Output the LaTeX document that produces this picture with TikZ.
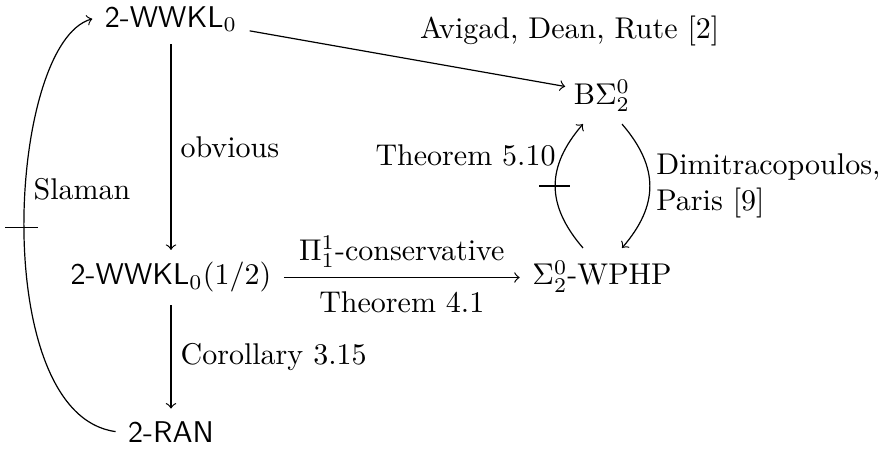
\documentclass[tikz,border=0pt]{standalone}
\usetikzlibrary{calc}
\begin{document}
\begin{tikzpicture}[x=0.3333pt,y=-0.3333pt,
  obj/.style={inner sep=4pt, anchor=base},
  lbl/.style={inner sep=3pt},
  arr/.style={->, line width=0.4pt},
  bar/.style={line width=0.4pt}]
\useasboundingbox (0,0) rectangle (890,453);
% objects
\node[obj] (A) at (171,27) {\textsf{2-WWKL}$_0$};
\node[obj] (B) at (602,104) {$\mathrm{B}\Sigma^0_2$};
\node[obj] (C) at (171,285) {\textsf{2-WWKL}$_0(1/2)$};
\node[obj] (D) at (602,285) {$\Sigma^0_2$-WPHP};
\node[obj] (E) at (171,442) {\textsf{2-RAN}};
% straight arrows
\draw[arr] (A.south) -- node[lbl, right] {obvious} (A.south |- C.north);
\draw[arr] (E.north |- C.south) -- node[lbl, right] {Corollary 3.15} (E.north);
\draw[arr] (C.east) -- node[lbl, above] {$\Pi^1_1$-conservative}
                       node[lbl, below, inner sep=4.5pt] {Theorem 4.1} (C.east -| D.west);
\draw[arr] ([shift={(0,12)}]A.east) -- node[lbl, above right, inner sep=4pt] {Avigad, Dean, Rute [2]}
           ([shift={(4,-9)}]B.west);
% curved arrows between B and D
\draw[arr] ([shift={(-19,0)}]D.north) .. controls +(-37,-43) and +(-37,43) ..
   coordinate[pos=0.5] (m1) node[lbl, pos=0.75, left, inner sep=2pt] {Theorem 5.10}
   ([shift={(-19,0)}]B.south);
\draw[bar] ([shift={(-16,0)}]m1) -- ([shift={(15,0)}]m1);
\draw[arr] ([shift={(20,0)}]B.south) .. controls +(37,43) and +(37,-43) ..
   node[lbl, pos=0.5, right, align=left, inner sep=2pt] {Dimitracopoulos,\\Paris [9]}
   ([shift={(20,0)}]D.north);
% Slaman
\draw[arr] (E.west) .. controls +(-128,-17) and +(-85,24) ..
   coordinate[pos=0.5] (m2) node[lbl, pos=0.5, above right, inner sep=3pt, yshift=6pt] {Slaman}
   (A.west);
\draw[bar] ([shift={(-19,0)}]m2) -- ([shift={(14,0)}]m2);
\end{tikzpicture}
\end{document}
